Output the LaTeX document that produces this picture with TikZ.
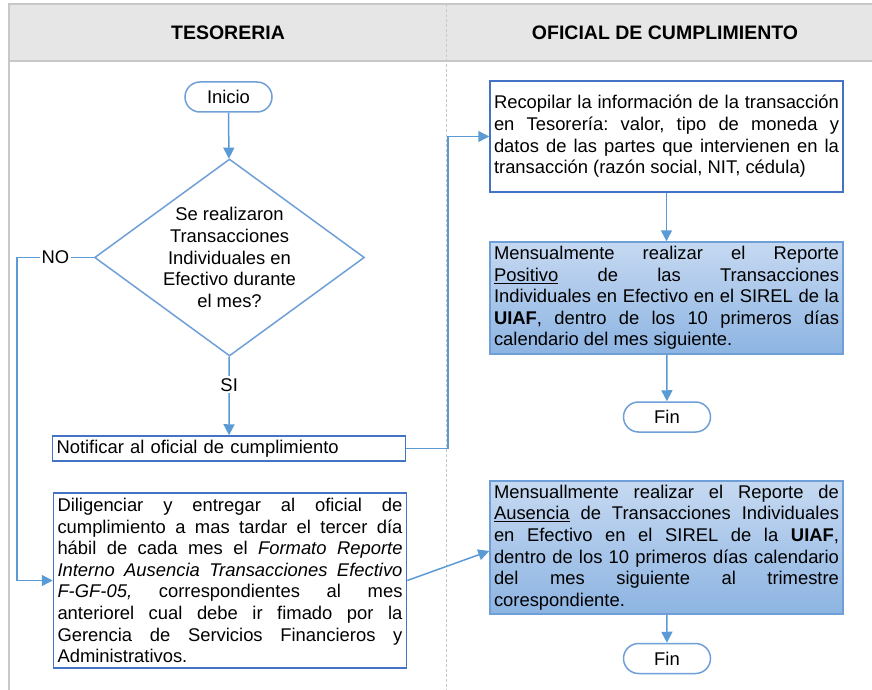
\documentclass[tikz,border=0pt]{standalone}
\usepackage{fontspec}
\setmainfont{Liberation Sans}
\usepackage{xcolor}
\usetikzlibrary{arrows.meta,shapes.geometric}
\definecolor{lineablue}{HTML}{5B9BD5}
\definecolor{bordeblue}{HTML}{4472C4}
\definecolor{suaveblue}{HTML}{6F9FD8}
\definecolor{arribablue}{HTML}{C6D9F1}
\definecolor{abajoblue}{HTML}{8DB4E2}
\definecolor{headgray}{HTML}{E6E6E6}
\definecolor{rulegray}{HTML}{C8C8C8}
\tolerance=10000
\hbadness=10000
\frenchspacing

\begin{document}
\begin{tikzpicture}[x=1pt,y=-1pt,font=\fontsize{18.4}{21.6}\selectfont]
    \tikzstyle{flecha}=[draw=lineablue,line width=1.5pt,-{Triangle[length=11pt,width=11pt]}]
\tikzstyle{terminal}=[draw=suaveblue,line width=1.5pt,rounded corners=15pt,minimum width=87pt,minimum height=30pt,fill=white]
\tikzstyle{caja}=[draw=bordeblue,line width=1.5pt,text width=345pt,inner xsep=4pt,inner ysep=1pt,align=justify]
\tikzstyle{cajaazul}=[caja,draw=suaveblue,top color=arribablue,bottom color=abajoblue]
\tikzstyle{decision}=[diamond,draw=suaveblue,line width=1.5pt,aspect=1.37,inner sep=0pt,align=center,minimum width=269pt,minimum height=197pt]
\tikzstyle{titulo}=[font=\fontsize{19.5}{22}\selectfont\bfseries]
\tikzstyle{etiqueta}=[fill=white,inner sep=2pt]
\useasboundingbox (0,0) rectangle (872,690);
\fill[headgray] (8,4) rectangle (872,61);
\draw[rulegray,line width=2pt] (8,4) -- (872,4);
\draw[rulegray,line width=2pt] (8,61) -- (872,61);
\draw[rulegray,line width=1.5pt] (9,4) -- (9,690);
\draw[rulegray,line width=1pt,dash pattern=on 3pt off 2pt] (446,4) -- (446,690);
\node[titulo] (tesoreria) at (228,33) {TESORERIA};
\node[titulo] (oficial) at (665,33) {OFICIAL DE CUMPLIMIENTO};
\node[terminal] (inicio) at (228.5,97) {Inicio};
\node[decision] (pregunta) at (229.5,257.5) {Se realizaron\\Transacciones\\Individuales en\\Efectivo durante\\el mes?};
\node[caja,minimum height=25pt,align=left] (notificar) at (229,448.5) {Notificar al oficial de cumplimiento};
\node[caja,minimum height=175pt] (diligenciar) at (230,580.5) {Diligenciar y entregar al oficial de\linebreak
    cumplimiento a mas tardar el tercer día\linebreak
    hábil de cada mes el \textit{Formato Reporte}\linebreak
    \textit{Interno Ausencia Transacciones Efectivo}\linebreak
    \textit{F-GF-05,} correspondientes al mes\linebreak
    anteriorel cual debe ir fimado por la\linebreak
    Gerencia de Servicios Financieros y\linebreak
    Administrativos.};
\node[caja,minimum height=111pt] (recopilar) at (666.5,136.5) {Recopilar la información de la transacción\linebreak
    en Tesorería: valor, tipo de moneda y\linebreak
    datos de las partes que intervienen en la\linebreak
    transacción (razón social, NIT, cédula)};
\node[cajaazul,minimum height=112pt] (mensual1) at (666.5,298) {Mensualmente realizar el Reporte\linebreak
    \underline{Positivo} de las Transacciones\linebreak
    Individuales en Efectivo en el SIREL de la\linebreak
    \textbf{UIAF}, dentro de los 10 primeros días\linebreak
    calendario del mes siguiente.};
\node[terminal] (fin1) at (667,417) {Fin};
\node[cajaazul,minimum height=133pt] (mensual2) at (666.5,547.5) {Mensuallmente realizar el Reporte de\linebreak
    \underline{Ausencia} de Transacciones Individuales\linebreak
    en Efectivo en el SIREL de la \textbf{UIAF},\linebreak
    dentro de los 10 primeros días calendario\linebreak
    del mes siguiente al trimestre\linebreak
    corespondiente.};
\node[terminal] (fin2) at (667,658.5) {Fin};
\coordinate (esquina) at (17,257.5);
\coordinate (codo) at (448,448.5);
\draw[flecha] (inicio) -- (pregunta);
\draw[flecha] (pregunta) -- node[etiqueta,pos=0.36] (si) {SI} (notificar);
\draw[flecha] (pregunta.west) -- node[etiqueta] (no) {NO} (esquina) |- (diligenciar.west);
\draw[flecha] (notificar.east) -- (codo) |- (recopilar.west);
\draw[flecha] (recopilar) -- (mensual1);
\draw[flecha] (mensual1) -- (fin1);
\draw[flecha] (diligenciar.east) -- ([yshift=-3.5pt]mensual2.west);
\draw[flecha] (mensual2) -- (fin2);
\end{tikzpicture}
\end{document}
